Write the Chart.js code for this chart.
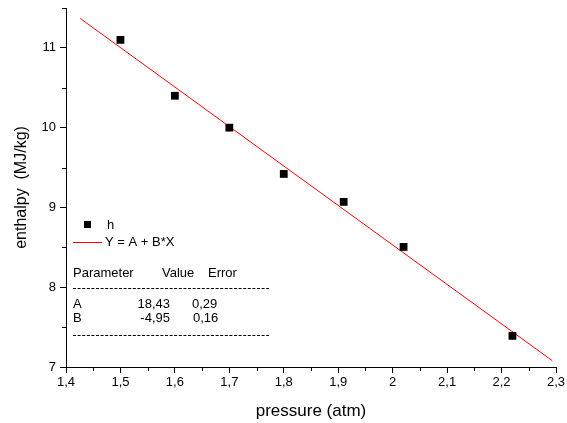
<!DOCTYPE html>
<html>
<head>
<meta charset="utf-8">
<script src="https://cdn.jsdelivr.net/npm/chart.js@4"></script>
<style>
  html, body { margin: 0; padding: 0; background: #fff; }
  #wrap { width: 567px; height: 423px; }
</style>
</head>
<body>
<div id="wrap"><canvas id="myChart" width="567" height="423"></canvas></div>
<script>
// measured data
var pressure = [1.5, 1.6, 1.7, 1.8, 1.91, 2.02, 2.22];
var enthalpy = [11.1, 10.4, 10.0, 9.42, 9.07, 8.505, 7.39];

// fitted line, ends
var fitX = [1.426, 2.293];
var fitY = [11.37, 7.08];

var xMajor = [1.4, 1.5, 1.6, 1.7, 1.8, 1.9, 2.0, 2.1, 2.2, 2.3];
var xMinor = [1.45, 1.55, 1.65, 1.75, 1.85, 1.95, 2.05, 2.15, 2.25];
var yMajor = [7, 8, 9, 10, 11];
var yMinor = [7.5, 8.5, 9.5, 10.5, 11.5];

var legendLabels = ['h', 'Y = A + B*X'];
var paramNames = ['A', 'B'];
var paramValues = ['18,43', '-4,95'];
var paramErrors = ['0,29', '0,16'];

function fmt(v) {
  return Number.isInteger(v) ? String(v) : v.toFixed(1).replace('.', ',');
}

var minorTicks = {
  id: 'minorTicks',
  afterDraw: function (chart) {
    var ctx = chart.ctx;
    var xs = chart.scales.x, ys = chart.scales.y;
    ctx.save();
    ctx.strokeStyle = '#000';
    ctx.lineWidth = 1;
    ctx.beginPath();
    xMinor.forEach(function (v) {
      var px = Math.round(xs.getPixelForValue(v)) + 0.5;
      ctx.moveTo(px, xs.top);
      ctx.lineTo(px, xs.top + 4);
    });
    yMinor.forEach(function (v) {
      var py = Math.round(ys.getPixelForValue(v)) + 0.5;
      ctx.moveTo(ys.right - 4, py);
      ctx.lineTo(ys.right, py);
    });
    ctx.stroke();
    ctx.restore();
  }
};

var fitBox = {
  id: 'fitBox',
  afterDraw: function (chart) {
    var ctx = chart.ctx;
    ctx.save();
    ctx.font = '13px "Liberation Sans", Arial, sans-serif';
    ctx.fillStyle = '#000';
    ctx.textBaseline = 'middle';
    // legend
    ctx.fillRect(84, 221, 7, 7);
    ctx.fillText(legendLabels[0], 107, 225);
    ctx.strokeStyle = 'rgb(255,0,0)';
    ctx.lineWidth = 1;
    ctx.beginPath();
    ctx.moveTo(73, 242.5);
    ctx.lineTo(102, 242.5);
    ctx.stroke();
    ctx.fillText(legendLabels[1], 105, 242);
    // parameter table
    ctx.fillText('Parameter', 73, 273);
    ctx.fillText('Value', 162, 273);
    ctx.fillText('Error', 208, 273);
    ctx.strokeStyle = '#000';
    ctx.setLineDash([3, 1.6]);
    ctx.beginPath();
    ctx.moveTo(73, 288.5);
    ctx.lineTo(269, 288.5);
    ctx.moveTo(73, 335.5);
    ctx.lineTo(269, 335.5);
    ctx.stroke();
    for (var i = 0; i < paramNames.length; i++) {
      var yy = 304 + i * 14;
      ctx.textAlign = 'left';
      ctx.fillText(paramNames[i], 73, yy);
      ctx.textAlign = 'right';
      ctx.fillText(paramValues[i], 170, yy);
      ctx.textAlign = 'left';
      ctx.fillText(paramErrors[i], 192 + i, yy);
    }
    ctx.restore();
  }
};

Chart.defaults.font.family = '"Liberation Sans", Arial, sans-serif';
Chart.defaults.color = '#000';

var ctx = document.getElementById('myChart').getContext('2d');
new Chart(ctx, {
  type: 'scatter',
  data: {
    datasets: [
      {
        label: 'h',
        data: pressure.map(function (p, i) { return { x: p, y: enthalpy[i] }; }),
        pointStyle: 'rect',
        pointRadius: 5.5,
        pointBackgroundColor: '#000',
        pointBorderColor: '#000',
        pointBorderWidth: 0,
        order: 1
      },
      {
        label: 'Y = A + B*X',
        type: 'line',
        data: fitX.map(function (x, i) { return { x: x, y: fitY[i] }; }),
        borderColor: 'rgb(255,0,0)',
        borderWidth: 1,
        pointRadius: 0,
        fill: false,
        order: 2
      }
    ]
  },
  options: {
    responsive: false,
    animation: false,
    layout: { padding: { top: 8, right: 11, left: 0, bottom: 0 } },
    plugins: { legend: { display: false }, tooltip: { enabled: false } },
    scales: {
      x: {
        type: 'linear',
        min: 1.4,
        max: 2.3,
        afterBuildTicks: function (s) { s.ticks = xMajor.map(function (v) { return { value: v }; }); },
        afterFit: function (s) { s.height = 56; s.paddingLeft = 0; s.paddingRight = 0; },
        ticks: {
          autoSkip: false,
          maxRotation: 0,
          padding: 2,
          font: { size: 13 },
          callback: function (v) { return fmt(v); }
        },
        grid: { drawOnChartArea: false, tickLength: 6, color: '#000', tickColor: '#000' },
        border: { color: '#000', width: 1 },
        title: { display: true, text: 'pressure (atm)', font: { size: 17 }, padding: { top: 10, bottom: 1 } }
      },
      y: {
        type: 'linear',
        min: 7,
        max: 11.5,
        afterBuildTicks: function (s) { s.ticks = yMajor.map(function (v) { return { value: v }; }); },
        afterFit: function (s) { s.width = 66; s.paddingTop = 0; s.paddingBottom = 0; },
        ticks: {
          autoSkip: false,
          padding: 4,
          font: { size: 13 },
          callback: function (v) { return fmt(v); }
        },
        grid: { drawOnChartArea: false, tickLength: 6, color: '#000', tickColor: '#000' },
        border: { color: '#000', width: 1 },
        title: { display: true, text: 'enthalpy  (MJ/kg)', font: { size: 16 }, padding: { top: 12, bottom: 4 } }
      }
    }
  },
  plugins: [minorTicks, fitBox]
});
</script>
</body>
</html>
